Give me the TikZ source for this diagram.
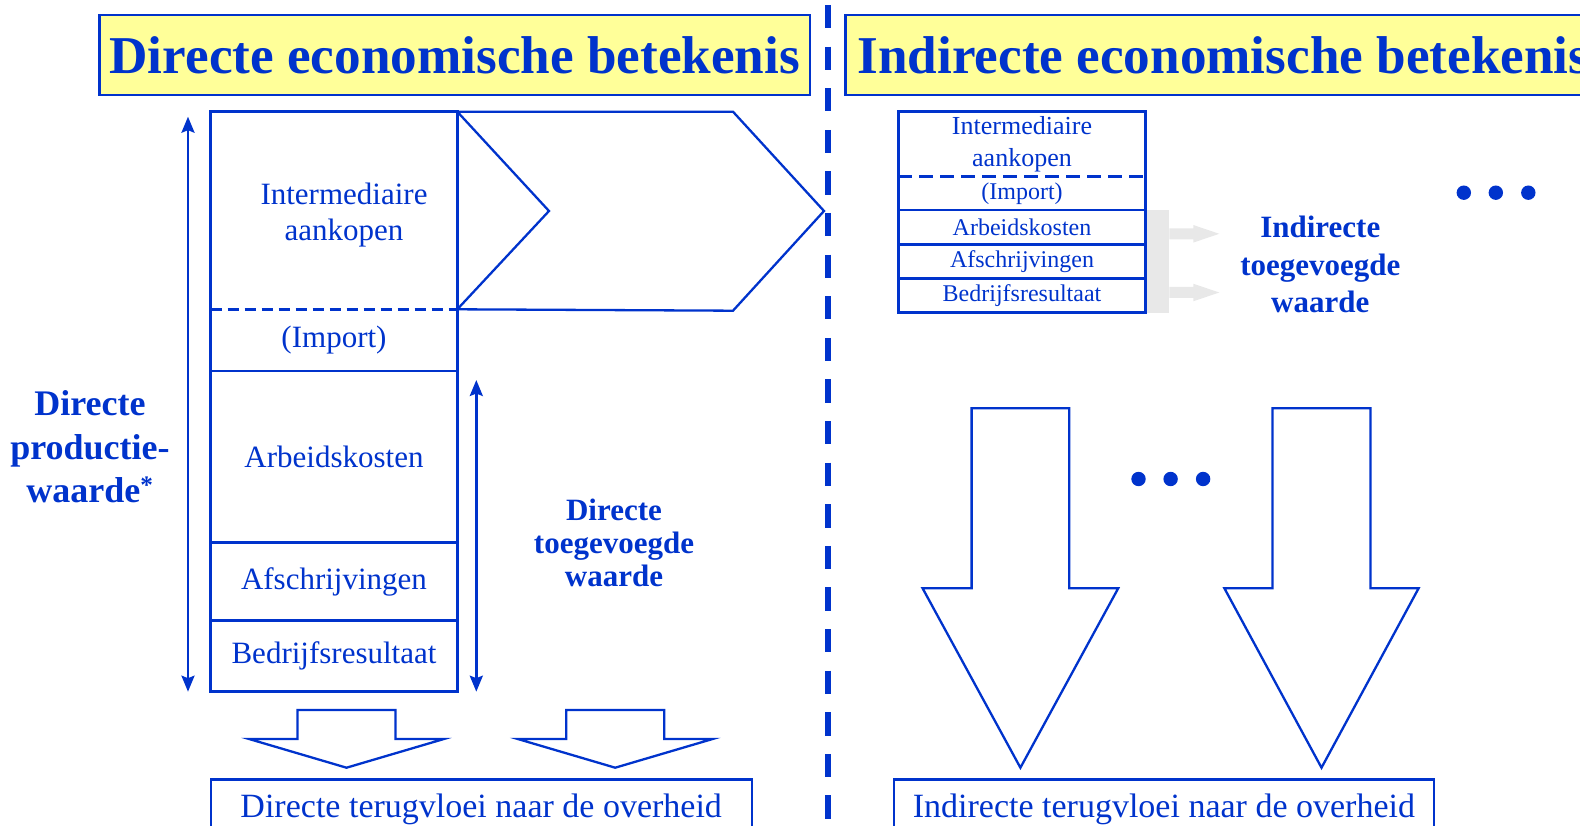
\documentclass[tikz,border=0pt]{standalone}
\usepackage{fontspec}
\setmainfont{Liberation Serif}
\usepackage{xcolor}
\usetikzlibrary{arrows.meta,positioning}
\definecolor{dblue}{RGB}{0,51,204}
\definecolor{tyellow}{RGB}{255,255,153}
\definecolor{lgray}{RGB}{232,232,232}
% hollow block arrow pointing down: centre x, top, head base, tip, half shaft, half head
\newcommand{\hollowdown}[6]{%
  \draw[hollow] (#1-#5,#2) -- (#1+#5,#2) -- (#1+#5,#3) -- (#1+#6,#3) -- (#1,#4) -- (#1-#6,#3) -- (#1-#5,#3) -- cycle;}
\tikzset{
  titlebox/.style={draw=dblue, fill=tyellow, line width=2.3pt, text=dblue, minimum height=80pt, inner sep=0pt, font=\bfseries\fontsize{53.2}{60}\selectfont},
  cell/.style={draw=dblue, line width=2.5pt, minimum width=246.6pt, inner sep=0pt, outer sep=0pt, align=center, text=dblue, font=\fontsize{31}{36.6}\selectfont},
  scell/.style={cell, line width=2.8pt, minimum width=247.3pt, font=\fontsize{24}{32.6}\selectfont},
  side/.style={text=dblue, align=center, inner sep=0pt},
  outbox/.style={draw=dblue, line width=2.3pt, text=dblue, minimum height=60pt, inner sep=0pt, font=\fontsize{34}{40}\selectfont},
  hollow/.style={draw=dblue, line width=2.3pt},
  dim/.style={dblue, line width=2.5pt, {Stealth[length=16pt,width=13pt,inset=2.5pt]}-{Stealth[length=16pt,width=13pt,inset=2.5pt]}}
}
\begin{document}
\begin{tikzpicture}[x=1pt,y=-1pt]
\useasboundingbox (0,0) rectangle (1580,826);
% titles and divider
\node[titlebox, minimum width=710.5pt] (dtitle) at (454.8,55) {Directe economische betekenis};
\node[titlebox, anchor=west, inner xsep=12pt] (ititle) at (844.3,55) {Indirecte economische betekenis};
\draw[dblue, line width=5.5pt, dash pattern=on 23.3pt off 18.3pt] (827.8,5) -- (827.8,830);
% direct: production value column
\node[cell, draw=none, minimum height=197.6pt] (inter) at (334,210.5) {};
\node[side, font=\fontsize{31}{36.6}\selectfont] (intertxt) at ([xshift=10pt,yshift=-4.5pt]inter.center) {Intermediaire\\aankopen};
\node[cell, draw=none, minimum height=61.7pt, below=0pt of inter] (imp) {(Import)};
\node[cell, minimum height=171.3pt, below=0pt of imp] (arb) {Arbeidskosten};
\node[cell, minimum height=78.4pt, below=0pt of arb] (afs) {Afschrijvingen};
\node[cell, minimum height=71pt, below=0pt of afs] (bed) {Bedrijfsresultaat};
\draw[dblue, line width=2.5pt] (inter.north west) rectangle (imp.south east);
\draw[dblue, line width=2.5pt, dash pattern=on 11pt off 6pt] (inter.south west) -- (inter.south east);
\draw[hollow] (inter.north east) -- (733,111.7) -- (824,211) -- (733,310.7) -- (inter.south east) -- (549,211) -- cycle;
\draw[dim] ([xshift=-22.7pt,yshift=-5pt]inter.north west) -- ([xshift=-22.7pt]bed.south west);
\draw[dim] ([xshift=19pt,yshift=-9pt]arb.north east) -- ([xshift=19pt]bed.south east);
\node[side, font=\bfseries\fontsize{36}{43.5}\selectfont] (dpw) at (90,447) {Directe\\productie-\\waarde\textsuperscript{*}};
\node[side, font=\bfseries\fontsize{31}{33}\selectfont] (dtv) at (614,543) {Directe\\toegevoegde\\waarde};
\hollowdown{346.5}{710}{739}{767.7}{49}{97.4}
\hollowdown{615.2}{710}{739}{767.7}{49}{97.4}
\node[outbox, minimum width=540.9pt, anchor=north] (dterug) at (481.2,778.3) {Directe terugvloei naar de overheid};
% indirect
\fill[lgray] (1146,210) rectangle (1169.3,312.7);
\foreach \y in {233.8,292.5}
  \fill[lgray] (1169.3,\y-5.5) -- (1193.3,\y-5.5) -- (1193.3,\y-8.8) -- (1219.3,\y) -- (1193.3,\y+8.8) -- (1193.3,\y+5.5) -- (1169.3,\y+5.5) -- cycle;
\node[scell, draw=none, minimum height=65pt, font=\fontsize{26}{32.6}\selectfont] (sinter) at (1022,144.2) {Intermediaire\\aankopen};
\node[scell, draw=none, minimum height=33.3pt, below=0pt of sinter] (simp) {(Import)};
\node[scell, minimum height=34.3pt, below=0pt of simp] (sarb) {Arbeidskosten};
\node[scell, minimum height=34pt, below=0pt of sarb] (safs) {Afschrijvingen};
\node[scell, minimum height=34.4pt, below=0pt of safs] (sbed) {Bedrijfsresultaat};
\draw[dblue, line width=2.8pt] (sinter.north west) rectangle (simp.south east);
\draw[dblue, line width=2.8pt, dash pattern=on 14pt off 7pt] (sinter.south west) -- (sinter.south east);
\node[side, font=\bfseries\fontsize{31}{37.5}\selectfont] (itv) at (1320.3,264.5) {Indirecte\\toegevoegde\\waarde};
\foreach \x in {1463.8,1495.8,1528.3} \fill[dblue] (\x,192.7) circle (7.2pt);
\foreach \x in {1138.5,1170.6,1203.1} \fill[dblue] (\x,479) circle (7.2pt);
\hollowdown{1020.4}{408.3}{588.3}{767.7}{48.8}{97.8}
\hollowdown{1321.5}{408.3}{588.3}{767.7}{49}{97.1}
\node[outbox, minimum width=540.5pt, anchor=north] (iterug) at (1163.9,778.3) {Indirecte terugvloei naar de overheid};
\end{tikzpicture}
\end{document}
